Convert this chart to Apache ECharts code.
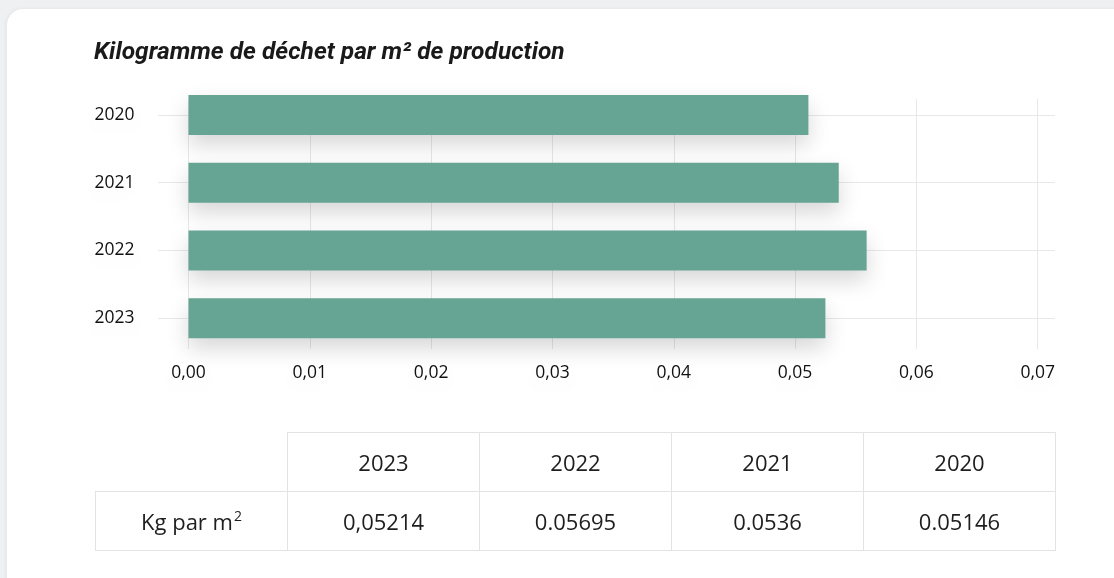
<!DOCTYPE html>
<html>
<head>
<meta charset="utf-8">
<script src="https://cdn.jsdelivr.net/npm/echarts@6/dist/echarts.min.js"></script>
<style>
  html, body { margin:0; padding:0; width:1114px; height:578px; background:#eff0f2; overflow:hidden; }
  #card { position:absolute; left:7px; top:9px; width:1200px; height:700px; background:#fff; border-radius:16px; box-shadow:-1px 0 4px rgba(0,0,0,0.06); }
  #chart { position:absolute; left:0; top:0; width:1114px; height:578px; }
  table { position:absolute; left:95px; top:432px; border-collapse:collapse; font-family:"Open Sans", sans-serif; font-size:22px; color:#1e1e1e; }
  td { width:192px; height:59px; border:1px solid #e3e3e3; text-align:center; padding:0; box-sizing:border-box; }
  td.empty { border:none; border-right:1px solid #e3e3e3; border-bottom:1px solid #e3e3e3; }
  sup { font-size:14px; vertical-align:baseline; position:relative; top:-9px; margin-left:1px; }
</style>
</head>
<body>
<div id="card"></div>
<div id="chart"></div>
<table id="tbl"></table>
<script>
const titleText = 'Kilogramme de déchet par m² de production';
const years = ['2020', '2021', '2022', '2023'];
const barValues = [0.0511, 0.0536, 0.0559, 0.0525];
const tableYears = ['2023', '2022', '2021', '2020'];
const tableValues = ['0,05214', '0.05695', '0.0536', '0.05146'];
const rowLabel = 'Kg par m<sup>2</sup>';

// table
const tbl = document.getElementById('tbl');
let h = '<tr><td class="empty"></td>' + tableYears.map(y => '<td>' + y + '</td>').join('') + '</tr>';
h += '<tr><td>' + rowLabel + '</td>' + tableValues.map(v => '<td>' + v + '</td>').join('') + '</tr>';
tbl.innerHTML = h;

const chart = echarts.init(document.getElementById('chart'), null, { renderer: 'canvas' });
const labelShadow = { textShadowColor: 'rgba(0,0,0,0.10)', textShadowBlur: 18, textShadowOffsetY: 8 };
const gridColor = '#e8e8e8';
chart.setOption({
  animation: false,
  title: {
    text: titleText, left: 89, top: 35,
    textStyle: { fontFamily: 'Roboto', fontWeight: 'bold', fontStyle: 'italic', fontSize: 24.5, color: '#1a1a1a' }
  },
  grid: [
    { left: 188.5, right: 76.3, top: 81, height: 271 },
    { left: 158, right: 59, top: 115, height: 203 },
    { left: 188.5, right: 76.3, top: 99, height: 250 }
  ],
  xAxis: [
    { gridIndex: 0, type: 'value', min: 0, max: 0.07, show: false },
    { gridIndex: 1, type: 'value', min: 0, max: 1, show: false },
    { gridIndex: 2, type: 'value', min: 0, max: 0.07, interval: 0.01,
      axisLine: { show: false }, axisTick: { show: false },
      splitLine: { show: true, lineStyle: { color: gridColor, width: 1 } },
      axisLabel: { margin: 15, fontFamily: 'Open Sans', fontSize: 17.5, color: '#111',
        formatter: v => v.toFixed(2).replace('.', ','), ...labelShadow } }
  ],
  yAxis: [
    { gridIndex: 0, type: 'category', data: years, inverse: true,
      axisLine: { show: false }, axisTick: { show: false }, splitLine: { show: false },
      axisLabel: { margin: 54, fontFamily: 'Open Sans', fontSize: 17.5, color: '#111', ...labelShadow } },
    { gridIndex: 1, type: 'category', data: years, boundaryGap: false,
      axisLine: { show: false }, axisTick: { show: false }, axisLabel: { show: false },
      splitLine: { show: true, lineStyle: { color: gridColor, width: 1 } } },
    { gridIndex: 2, type: 'value', show: false, splitLine: { show: false } }
  ],
  series: [{
    type: 'bar', xAxisIndex: 0, yAxisIndex: 0, data: barValues, barWidth: 40, z: 5,
    itemStyle: { color: '#66a493', shadowColor: 'rgba(0,0,0,0.16)', shadowBlur: 22, shadowOffsetY: 10 }
  }]
});
</script>
</body>
</html>
